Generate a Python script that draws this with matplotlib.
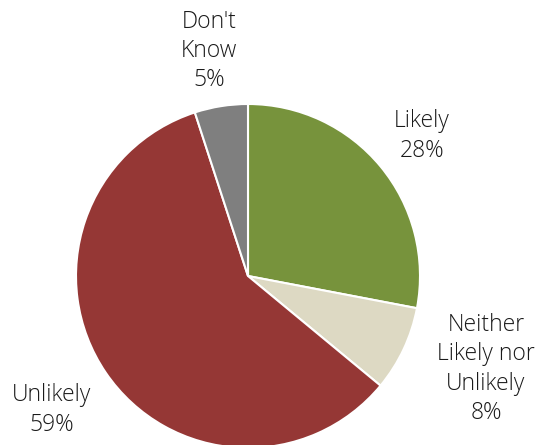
import matplotlib
matplotlib.use("Agg")
import matplotlib.pyplot as plt

categories = ["Likely", "Neither\nLikely nor\nUnlikely", "Unlikely", "Don't\nKnow"]
values = [28, 8, 59, 5]
colors = ["#77933C", "#DDD9C3", "#953735", "#7F7F7F"]

W, H = 542, 445
fig = plt.figure(figsize=(W / 100, H / 100), dpi=100)
ax = fig.add_axes([0, 0, 1, 1])

ax.pie(values, colors=colors, startangle=90, counterclock=False,
       center=(248, H - 276), radius=172, frame=True,
       wedgeprops=dict(edgecolor="white", linewidth=1.5))
ax.set_xlim(0, W)
ax.set_ylim(0, H)
ax.axis("off")

label_pos = [(422, 136), (486, 369), (52, 410), (209, 51)]
for cat, v, (x, y) in zip(categories, values, label_pos):
    ax.text(x, H - y, f"{cat}\n{v}%", ha="center", va="center",
            fontsize=16.5, family="Open Sans", fontweight="light", color="#1a1a1a",
            linespacing=1.28)

fig.savefig("out.png", dpi=100)
